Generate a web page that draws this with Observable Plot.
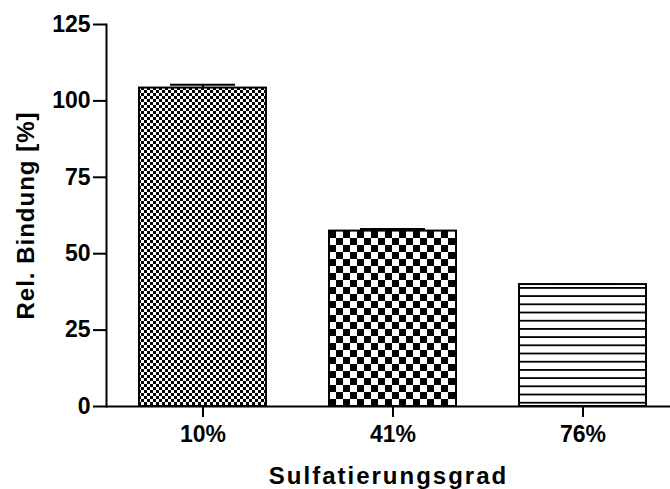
<!DOCTYPE html>
<html>
<head>
<meta charset="utf-8">
<script src="https://cdn.jsdelivr.net/npm/d3@7"></script>
<script src="https://cdn.jsdelivr.net/npm/@observablehq/plot@0.6"></script>
<style>
  body { margin: 0; background: #fff; }
</style>
</head>
<body>
<div id="chart"></div>
<script>
// Relative binding by degree of sulfation (mean with error)
const categories = ["10%", "41%", "76%"];
const values = [104.2, 57.4, 39.9];
const errors = [1.1, 0.7, 0.2];
const patternIds = ["fine-check", "coarse-check", "h-lines"];
const yTicks = [0, 25, 50, 75, 100, 125];
const xTitle = "Sulfatierungsgrad";
const yTitle = "Rel. Bindung [%]";

const data = categories.map((c, i) => ({
  category: c,
  value: values[i],
  top: values[i] + errors[i],
  fill: `url(#${patternIds[i]})`
}));

const font = "'Liberation Sans', Arial, Helvetica, sans-serif";

const chart = Plot.plot({
  width: 670,
  height: 489,
  marginLeft: 106,
  marginRight: 0,
  marginTop: 24,
  marginBottom: 83,
  style: {fontFamily: font, fontWeight: "bold", fontSize: "22px", color: "black", background: "white"},
  x: {domain: categories, range: [106, 679], paddingInner: 0.33, paddingOuter: 0.166, label: null},
  y: {domain: [0, 125], label: null},
  color: {type: "identity"},
  marks: [
    Plot.barY(data, {x: "category", y: "value", fill: "fill", stroke: "black", strokeWidth: 2}),
    Plot.ruleX(data, {x: "category", y1: "value", y2: "top", stroke: "black", strokeWidth: 2}),
    Plot.tickY(data, {x: "category", y: "top", stroke: "black", strokeWidth: 2, insetLeft: 31, insetRight: 31}),
    Plot.axisY({ticks: yTicks, tickSize: 13, tickPadding: 3, strokeWidth: 2, fontSize: 23, fontWeight: "bold", label: null}),
    Plot.axisX({tickSize: 11, tickPadding: 8, strokeWidth: 2, fontSize: 23, fontWeight: "bold", label: null}),
    Plot.ruleY([0], {stroke: "black", strokeWidth: 2}),
    Plot.frame({anchor: "left", stroke: "black", strokeWidth: 2}),
    Plot.text([xTitle], {
      text: d => d, frameAnchor: "bottom", dx: 0, dy: 70, textAnchor: "middle", lineAnchor: "middle",
      fontSize: 24, fontWeight: "bold", fill: "black"
    }),
    Plot.text([yTitle], {
      text: d => d, frameAnchor: "left", dx: -80, rotate: -90, textAnchor: "middle", lineAnchor: "middle",
      fontSize: 24, fontWeight: "bold", fill: "black"
    })
  ]
});

const svg = d3.select(chart);

// Tick labels: every text that is not an axis title
svg.selectAll("text")
  .filter(function() { return this.textContent !== xTitle && this.textContent !== yTitle; })
  .style("font-size", "23px").style("font-weight", "bold");

// Wider letter spacing on the axis titles
svg.selectAll("text").filter(function() { return this.textContent === xTitle; })
  .attr("letter-spacing", "2px");
svg.selectAll("text").filter(function() { return this.textContent === yTitle; })
  .attr("letter-spacing", "1px");

// Fill patterns for the bars
const defs = svg.insert("defs", ":first-child");

const fine = defs.append("pattern")
  .attr("id", "fine-check").attr("patternUnits", "userSpaceOnUse")
  .attr("width", 6).attr("height", 6);
fine.append("rect").attr("width", 6).attr("height", 6).attr("fill", "white");
fine.append("rect").attr("width", 3).attr("height", 3).attr("fill", "black");
fine.append("rect").attr("x", 3).attr("y", 3).attr("width", 3).attr("height", 3).attr("fill", "black");

const coarse = defs.append("pattern")
  .attr("id", "coarse-check").attr("patternUnits", "userSpaceOnUse")
  .attr("width", 14).attr("height", 14);
coarse.append("rect").attr("width", 14).attr("height", 14).attr("fill", "white");
coarse.append("rect").attr("width", 7).attr("height", 7).attr("fill", "black");
coarse.append("rect").attr("x", 7).attr("y", 7).attr("width", 7).attr("height", 7).attr("fill", "black");

const lines = defs.append("pattern")
  .attr("id", "h-lines").attr("patternUnits", "userSpaceOnUse")
  .attr("width", 10).attr("height", 8.2);
lines.append("rect").attr("width", 10).attr("height", 8.2).attr("fill", "white");
lines.append("rect").attr("y", 0).attr("width", 10).attr("height", 1.8).attr("fill", "black");

document.getElementById("chart").appendChild(chart);
</script>
</body>
</html>
